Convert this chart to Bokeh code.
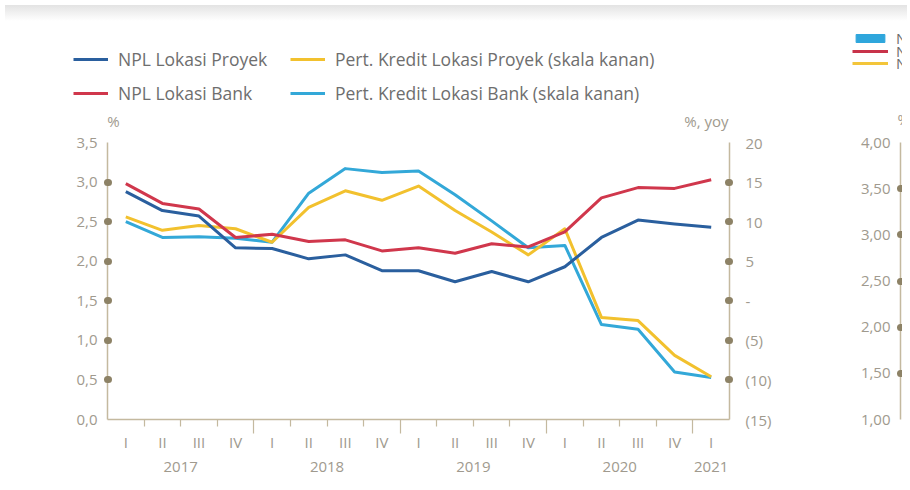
from bokeh.plotting import figure
from bokeh.models import (Range1d, LinearAxis, FixedTicker,
                          Legend, LegendItem, Label, CustomJSTickFormatter, ColumnDataSource, Div)
from bokeh.layouts import row, column
from bokeh.embed import file_html
from bokeh.resources import INLINE

# ---------------- data ----------------
years = ["2017"] * 4 + ["2018"] * 4 + ["2019"] * 4 + ["2020"] * 4 + ["2021"]
quarters = ["I", "II", "III", "IV"] * 4 + ["I"]

npl_lokasi_proyek = [2.88, 2.64, 2.57, 2.17, 2.16, 2.03, 2.08, 1.88, 1.88,
                     1.74, 1.87, 1.74, 1.93, 2.30, 2.52, 2.47, 2.43]
npl_lokasi_bank = [2.98, 2.73, 2.66, 2.30, 2.34, 2.25, 2.27, 2.13, 2.17,
                   2.10, 2.22, 2.18, 2.37, 2.80, 2.93, 2.92, 3.03]
kredit_lokasi_proyek = [10.6, 8.9, 9.5, 9.1, 7.4, 11.8, 13.9, 12.7, 14.5,
                        11.4, 8.7, 5.8, 9.1, -2.1, -2.5, -6.9, -9.6]
kredit_lokasi_bank = [10.0, 8.0, 8.1, 7.9, 7.4, 13.6, 16.7, 16.2, 16.4,
                      13.4, 10.1, 6.7, 7.0, -3.0, -3.6, -9.0, -9.7]

left_ticks = [0, 0.5, 1.0, 1.5, 2.0, 2.5, 3.0, 3.5]
right_ticks = [-15, -10, -5, 0, 5, 10, 15, 20]

# neighbouring (partly visible) chart
side_ticks = [1.0, 1.5, 2.0, 2.5, 3.0, 3.5, 4.0]
side_bar = [3.00]

# ---------------- style ----------------
FONT = "Open Sans"
AX = "#c4b99f"
DOT = "#8d8266"
TXT = "#a09a8e"
LEG = "#6e6e6e"
C_PROYEK = "#2a5f9e"
C_BANK = "#d0374c"
C_KPROYEK = "#f2c12e"
C_KBANK = "#33a8d8"
TICK_FS = "15px"
LEG_FS = "17.5px"

n = len(quarters)
xpos = [i + 0.5 for i in range(n)]                       # centre of each quarter slot
boundaries = list(range(1, n))                             # between quarters
year_names = sorted(set(years))
year_bounds = [i for i in boundaries if years[i] != years[i - 1]]
quarter_bounds = [i for i in boundaries if years[i] == years[i - 1]]
year_centres = [sum(x for x, y in zip(xpos, years) if y == yr) / years.count(yr) for yr in year_names]

src = ColumnDataSource(dict(x=xpos, npl_proyek=npl_lokasi_proyek, npl_bank=npl_lokasi_bank,
                            k_proyek=kredit_lokasi_proyek, k_bank=kredit_lokasi_bank))

BAND = 16           # grey strip at the top
HEAD = 106          # legend / unit-label strip
TOP = 8 + BAND + HEAD   # page y where the plots start (130)
BOTTOM = 476        # page y where the plots end
MAIN_W = 838
SIDE_W = 64

def clean(fig):
    fig.grid.visible = False
    fig.outline_line_color = None
    fig.background_fill_color = "white"
    fig.border_fill_color = "white"

# ---------------- main chart ----------------
p = figure(width=MAIN_W, height=BOTTOM - TOP,
           x_range=Range1d(0, n), y_range=Range1d(0, 3.5),
           output_backend="svg", toolbar_location=None,
           x_axis_location=None, y_axis_location=None,
           min_border_left=107, min_border_right=MAIN_W - 729,
           min_border_top=140 - TOP, min_border_bottom=BOTTOM - 420)
clean(p)
p.extra_y_ranges = {"right": Range1d(-15, 20)}

label_fmt = """
  for (let k = 0; k < pos.length; k++) { if (Math.abs(pos[k] - tick) < 1e-6) return lab[k]; }
  return '';"""

# tick marks at quarter boundaries (long at year boundaries)
tax = LinearAxis(ticker=FixedTicker(ticks=year_bounds, minor_ticks=quarter_bounds),
                 formatter=CustomJSTickFormatter(code="return ''"),
                 axis_line_color=AX, axis_line_width=1.5,
                 major_tick_line_color=AX, major_tick_line_width=1.2, major_tick_out=14, major_tick_in=0,
                 minor_tick_line_color=AX, minor_tick_line_width=1.2, minor_tick_out=7, minor_tick_in=0,
                 major_label_text_font_size="0px", major_label_standoff=0)
p.add_layout(tax, "below")

qax = LinearAxis(ticker=FixedTicker(ticks=xpos, minor_ticks=[]),
                 formatter=CustomJSTickFormatter(args=dict(pos=xpos, lab=quarters), code=label_fmt),
                 axis_line_color=None, major_tick_line_color=None, minor_tick_line_color=None,
                 major_tick_out=0, major_tick_in=0, major_label_standoff=-2,
                 major_label_text_font=FONT, major_label_text_font_size=TICK_FS,
                 major_label_text_color=TXT)
p.add_layout(qax, "below")

yax = LinearAxis(ticker=FixedTicker(ticks=year_centres, minor_ticks=[]),
                 formatter=CustomJSTickFormatter(args=dict(pos=year_centres, lab=year_names), code=label_fmt),
                 axis_line_color=None, major_tick_line_color=None, minor_tick_line_color=None,
                 major_tick_out=0, major_tick_in=0, major_label_standoff=7,
                 major_label_text_font=FONT, major_label_text_font_size=TICK_FS,
                 major_label_text_color=TXT)
p.add_layout(yax, "below")

def dot_axis(ticks, fmt, standoff=10, **kw):
    return LinearAxis(ticker=FixedTicker(ticks=ticks, minor_ticks=ticks[1:-1]),
                      formatter=CustomJSTickFormatter(code=fmt),
                      axis_line_color=AX, axis_line_width=1.5,
                      major_tick_line_color=None, major_tick_out=0, major_tick_in=0,
                      minor_tick_line_color=DOT, minor_tick_line_width=7, minor_tick_line_cap="round",
                      minor_tick_in=1, minor_tick_out=0,
                      major_label_text_font=FONT, major_label_text_font_size=TICK_FS,
                      major_label_text_color=TXT, major_label_standoff=standoff, **kw)

p.add_layout(dot_axis(left_ticks, "return tick.toFixed(1).replace('.', ',')"), "left")
p.add_layout(dot_axis(right_ticks, """
                     if (tick == 0) return '-';
                     if (tick < 0) return '(' + Math.abs(tick) + ')';
                     return '' + tick;""", standoff=16, y_range_name="right"), "right")

p.line("x", "k_bank", source=src, y_range_name="right", color=C_KBANK, line_width=3, line_join="round")
p.line("x", "k_proyek", source=src, y_range_name="right", color=C_KPROYEK, line_width=3, line_join="round")
p.line("x", "npl_bank", source=src, color=C_BANK, line_width=3, line_join="round")
p.line("x", "npl_proyek", source=src, color=C_PROYEK, line_width=3, line_join="round")

# ---------------- neighbouring chart (only its axis is visible) ----------------
s = figure(width=SIDE_W, height=BOTTOM - TOP, x_range=Range1d(0, 1), y_range=Range1d(1, 4),
           output_backend="svg", toolbar_location=None,
           x_axis_location=None, y_axis_location=None,
           min_border_left=900 - MAIN_W, min_border_right=0,
           min_border_top=138 - TOP, min_border_bottom=BOTTOM - 417)
clean(s)
s.add_layout(dot_axis(side_ticks, "return tick.toFixed(2).replace('.', ',')"), "left")
s.vbar(x=[1.6], top=side_bar, bottom=1, width=1.0, color="#2fa6dc")

# ---------------- header strip: legends and unit labels ----------------
W = MAIN_W + SIDE_W
h = figure(width=W, height=HEAD, x_range=Range1d(0, 1), y_range=Range1d(100, 101),
           output_backend="svg", toolbar_location=None,
           x_axis_location=None, y_axis_location=None,
           min_border_left=0, min_border_right=0, min_border_top=0, min_border_bottom=0)
clean(h)
hb = TOP   # page y of header bottom
# legend proxies (one point each: nothing is drawn in the strip itself)
lg_pp = h.line(x=xpos[:1], y=npl_lokasi_proyek[:1], color=C_PROYEK, line_width=3)
lg_pb = h.line(x=xpos[:1], y=npl_lokasi_bank[:1], color=C_BANK, line_width=3)
lg_kp = h.line(x=xpos[:1], y=kredit_lokasi_proyek[:1], color=C_KPROYEK, line_width=3)
lg_kb = h.line(x=xpos[:1], y=kredit_lokasi_bank[:1], color=C_KBANK, line_width=3)
lg_sb = h.vbar(x=xpos[:1], top=side_bar, bottom=1, width=1, color="#2fa6dc")
lg_s1 = h.line(x=xpos[:1], y=side_bar, color="#c8334a", line_width=3)
lg_s2 = h.line(x=xpos[:1], y=side_bar, color="#f3c53a", line_width=3)

leg_style = dict(border_line_color=None, background_fill_alpha=0, padding=0, margin=0,
                 spacing=10, glyph_width=35, glyph_height=20, label_height=20, label_standoff=10,
                 label_text_font=FONT, label_text_font_size=LEG_FS, label_text_color=LEG)
h.add_layout(Legend(items=[LegendItem(label="NPL Lokasi Proyek", renderers=[lg_pp]),
                           LegendItem(label="NPL Lokasi Bank", renderers=[lg_pb])],
                    location=(73, hb - 103), **leg_style))
h.add_layout(Legend(items=[LegendItem(label="Pert. Kredit Lokasi Proyek (skala kanan)", renderers=[lg_kp]),
                           LegendItem(label="Pert. Kredit Lokasi Bank (skala kanan)", renderers=[lg_kb])],
                    location=(290, hb - 103), **leg_style))

side_leg = dict(border_line_color=None, background_fill_alpha=0, padding=0, margin=0,
                glyph_width=36, glyph_height=10, label_height=12, label_standoff=8,
                label_text_font=FONT, label_text_font_size="15px", label_text_color=LEG)
for rend, centre in ((lg_sb, 37), (lg_s1, 50), (lg_s2, 62)):
    h.add_layout(Legend(items=[LegendItem(label="N", renderers=[rend])],
                        location=(852, hb - centre - 9), **side_leg))

unit_style = dict(x_units="screen", y_units="screen", text_baseline="middle", text_font=FONT,
                  text_font_size=TICK_FS, text_color=TXT)
h.add_layout(Label(x=113, y=hb - 118, text="%", text_align="center", **unit_style))
h.add_layout(Label(x=728, y=hb - 118, text="%, yoy", text_align="right", **unit_style))
h.add_layout(Label(x=897, y=hb - 116, text="%", text_align="left", **unit_style))

band = Div(width=W, height=BAND,
           styles={"background": "linear-gradient(#e3e3e3, #f4f4f4 60%, #ffffff)"})
layout = column(band, h, row(p, s))

open("out.html", "w").write(file_html(layout, INLINE))
